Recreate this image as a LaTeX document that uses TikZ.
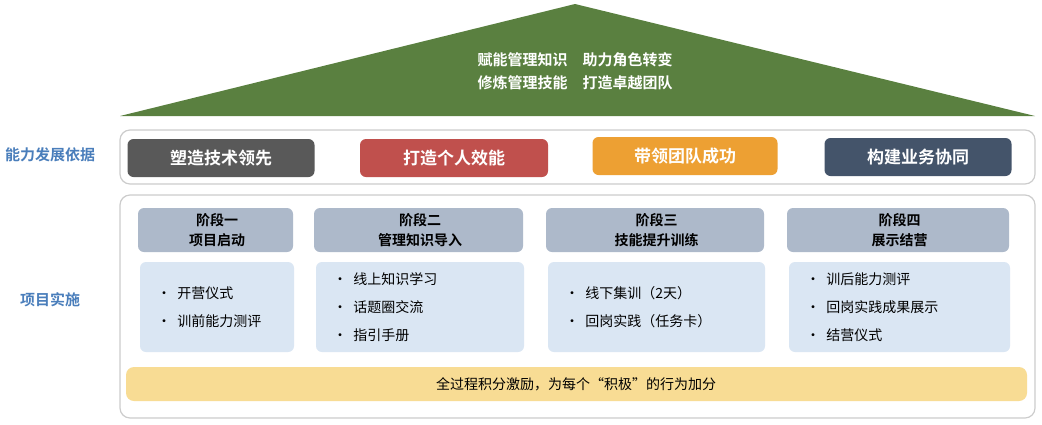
\documentclass[tikz,border=0pt]{standalone}
\usepackage{fontspec}
\newfontfamily\cjk{Noto Sans CJK SC}
\newfontfamily\cjkb{Noto Sans CJK SC Bold}
\definecolor{roofgreen}{HTML}{5A8040}
\definecolor{labelblue}{HTML}{4A7EBB}
\definecolor{techgray}{HTML}{595959}
\definecolor{selfred}{HTML}{C0504D}
\definecolor{teamorange}{HTML}{EDA033}
\definecolor{bizslate}{HTML}{44546A}
\definecolor{stagehead}{HTML}{ADB9CA}
\definecolor{stagebody}{HTML}{DAE6F3}
\definecolor{barsand}{HTML}{F8DC94}
\begin{document}
\begin{tikzpicture}[x=0.5pt,y=-0.5pt]
    % Define styles
    \tikzset{
        frame/.style={draw=black!20, line width=0.6pt, rounded corners=5pt, fill=white},
        pillar/.style={rounded corners=3pt, text=white, font=\cjkb\fontsize{8.5}{10}\selectfont, inner sep=0pt},
        stagehdr/.style={fill=stagehead, rounded corners=3pt, font=\cjkb\fontsize{7}{9}\selectfont, align=center, inner sep=0pt},
        stagebox/.style={fill=stagebody, rounded corners=3pt, font=\cjk\fontsize{7}{14}\selectfont, align=left, inner sep=0pt},
        side/.style={text=labelblue, font=\cjkb\fontsize{7.5}{9}\selectfont}
    }
    \useasboundingbox (0,0) rectangle (1042,424);
    % Roof
    \fill[roofgreen] (120,116) -- (575,4) -- (1035,116) -- cycle;
    \node[text=white, font=\cjkb\fontsize{7.5}{11.5}\selectfont, align=left] (roof) at (575,71)
        {赋能管理知识\quad 助力角色转变\\修炼管理技能\quad 打造卓越团队};
    % Side labels
    \node[side] (basis) at (50,155) {能力发展依据};
    \node[side] (impl) at (50,300) {项目实施};
    % Frames
    \draw[frame] (120,130) rectangle (1035,184);
    \draw[frame] (120,195) rectangle (1035,418);
    % Pillars
    \node[pillar, fill=techgray, minimum width=93.5pt, minimum height=19pt] (tech) at (221,158) {塑造技术领先};
    \node[pillar, fill=selfred, minimum width=94pt, minimum height=19pt] (self) at (454,158) {打造个人效能};
    \node[pillar, fill=teamorange, minimum width=92.5pt, minimum height=19pt] (team) at (685,156) {带领团队成功};
    \node[pillar, fill=bizslate, minimum width=93.5pt, minimum height=19pt] (biz) at (918,157) {构建业务协同};
    % Stages
    \foreach \name/\xa/\xb/\head/\body in {
        one/140/294/{阶段一\\项目启动}/{·\ \ 开营仪式\\·\ \ 训前能力测评},
        two/316/524/{阶段二\\管理知识导入}/{·\ \ 线上知识学习\\·\ \ 话题圈交流\\·\ \ 指引手册},
        three/548/765/{阶段三\\技能提升训练}/{·\ \ 线下集训（2天）\\·\ \ 回岗实践（任务卡）},
        four/789/1010/{阶段四\\展示结营}/{·\ \ 训后能力测评\\·\ \ 回岗实践成果展示\\·\ \ 结营仪式}} {
        \fill[stagehead, rounded corners=3pt] (\xa-2,208) rectangle (\xb-1,252);
        \node[font=\cjkb\fontsize{7}{10}\selectfont, align=center] (h\name) at ({(\xa+\xb)/2},230) {\head};
        \fill[stagebody, rounded corners=3pt] (\xa,262) rectangle (\xb,352);
        \node[font=\cjk\fontsize{7}{14}\selectfont, align=left, anchor=west] (b\name) at (\xa+10,307) {\body};
    }
    % Bottom bar
    \fill[barsand, rounded corners=4pt] (126,367) rectangle (1027,401);
    \node[font=\cjk\fontsize{7}{9}\selectfont] (bar) at (576,384) {全过程积分激励，为每个“积极”的行为加分};
\end{tikzpicture}
\end{document}
